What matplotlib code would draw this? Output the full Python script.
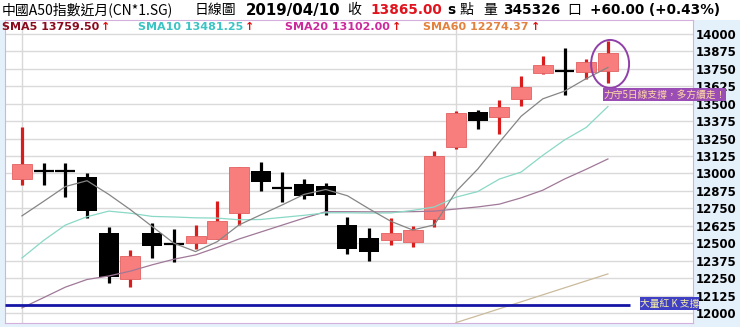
import matplotlib
matplotlib.use("Agg")
import matplotlib.pyplot as plt
from matplotlib.patches import Rectangle, Ellipse
import numpy as np

plt.rcParams["font.family"] = ["DejaVu Sans", "Noto Sans CJK TC"]
CJK = ["Noto Sans CJK TC", "DejaVu Sans"]

# daily candles, oldest first
opens = [12961, 13020, 13018, 12977, 12576, 12244, 12571, 12497, 12505, 12533,
         12715, 13018, 12899, 12925, 12908, 12631, 12540, 12521, 12507, 12674,
         13192, 13441, 13407, 13536, 13718, 13733, 13730, 13735]
highs = [13333, 13077, 13075, 13006, 12619, 12452, 12643, 12600, 12634, 12803,
         13044, 13083, 13013, 12961, 12934, 12690, 12607, 12679, 12626, 13161,
         13448, 13455, 13527, 13699, 13842, 13900, 13821, 13950]
lows = [12918, 12918, 12834, 12683, 12217, 12184, 12392, 12364, 12459, 12533,
        12634, 12877, 12794, 12819, 12703, 12421, 12373, 12488, 12473, 12619,
        13176, 13317, 13281, 13484, 13711, 13561, 13680, 13651]
closes = [13068, 13020, 13018, 12731, 12260, 12411, 12483, 12497, 12552, 12660,
          13044, 12941, 12899, 12839, 12846, 12459, 12435, 12571, 12595, 13126,
          13432, 13379, 13479, 13622, 13776, 13733, 13802, 13865]

sma5 = [12696, 12800, 12906, 12948, 12850, 12740, 12620, 12500, 12440, 12511,
        12631, 12703, 12775, 12850, 12885, 12840, 12746, 12657, 12595, 12631,
        12870, 13031, 13224, 13410, 13535, 13590, 13680, 13760]
sma10 = [12394, 12520, 12630, 12690, 12730, 12715, 12692, 12688, 12682, 12680,
         12668, 12670, 12685, 12700, 12718, 12718, 12716, 12717, 12735, 12760,
         12830, 12870, 12960, 13010, 13130, 13240, 13330, 13480]
sma20 = [12036, 12110, 12185, 12240, 12265, 12300, 12345, 12385, 12416, 12470,
         12530, 12580, 12630, 12680, 12726, 12726, 12725, 12725, 12726, 12730,
         12745, 12760, 12780, 12825, 12880, 12960, 13030, 13104]
sma60_start = 20
sma60 = [11931, 11980, 12030, 12080, 12130, 12180, 12230, 12280]

support_level = 12057
yticks = list(range(12000, 14001, 125))

W, H = 740, 327


def fx(x):
    return x / W


def fy(y):
    return 1 - y / H


def main():
    fig = plt.figure(figsize=(7.4, 3.27), dpi=100, facecolor="#e4f0fa")
    fig.add_artist(Rectangle((0, fy(20)), 1, 20 / H, transform=fig.transFigure,
                             facecolor="white", edgecolor="none", zorder=0))
    ax = fig.add_axes([fx(5), 4 / H, 688 / W, 303 / H])
    ax.set_facecolor("white")

    x = np.arange(len(closes))
    o, h, l, c = (np.array(a, dtype=float) for a in (opens, highs, lows, closes))
    up = c > o
    down = c < o
    doji = c == o

    ax.vlines(x[up], l[up], h[up], color="#d91c1c", lw=2.3, zorder=2)
    ax.bar(x[up], (c - o)[up], bottom=o[up], width=0.92, color="#f87d7d",
           edgecolor="#e36262", lw=0.6, zorder=3)
    ax.vlines(x[~up], l[~up], h[~up], color="black", lw=2.3, zorder=2)
    ax.bar(x[down], (o - c)[down], bottom=c[down], width=0.92, color="black",
           zorder=3)
    ax.hlines(c[doji], x[doji] - 0.46, x[doji] + 0.46, color="black", lw=1.6,
              zorder=3)

    ax.plot(x, sma20, color="#a07898", lw=0.9, zorder=4)
    ax.plot(x, sma10, color="#8ad8c6", lw=0.9, zorder=4)
    ax.plot(x, sma5, color="#858585", lw=0.9, zorder=4)
    ax.plot(x[sma60_start:], sma60, color="#cbbb9c", lw=0.9, zorder=4)

    xl = (-0.78, 30.92)
    ax.hlines(support_level, xl[0], 28.0, color="#1515a5", lw=2, zorder=4)

    ax.add_patch(Ellipse((27.1, 13785), 1.75, 344, facecolor="none",
                         edgecolor="#9040a8", lw=1.4, zorder=5))

    ax.set_xlim(*xl)
    ax.set_ylim(11928, 14100)
    ax.set_yticks(yticks)
    ax.set_yticklabels([str(t) for t in yticks], fontweight="bold")
    ax.yaxis.tick_right()
    ax.tick_params(axis="y", length=0, pad=2, labelsize=8.5)
    ax.set_xticks([])
    ax.grid(axis="y", color="#dadada", lw=1, zorder=0)
    ax.set_axisbelow(True)
    for xv in (0, 20):
        ax.axvline(xv, color="#d8d8d8", lw=1, zorder=1)
    for s in ax.spines.values():
        s.set_color("#d4b0dc")

    # header row
    yh = fy(10)
    fig.text(fx(2), yh, "中國A50指數近月(CN*1.SG)", family=CJK, fontsize=10,
             va="center")
    fig.text(fx(195), yh, "日線圖", family=CJK, fontsize=10, va="center")
    fig.text(fx(246), yh, "2019/04/10", fontsize=10.8, weight="bold", va="center")
    fig.text(fx(347), yh, "收", family=CJK, fontsize=10, va="center")
    fig.text(fx(370), yh, "13865.00", fontsize=9.8, weight="bold",
             color="#e0141e", va="center")
    fig.text(fx(447), yh, "s", fontsize=9.8, weight="bold", va="center")
    fig.text(fx(460), yh, "點", family=CJK, fontsize=10, va="center")
    fig.text(fx(483), yh, "量", family=CJK, fontsize=10, va="center")
    fig.text(fx(503), yh, "345326", fontsize=9.8, weight="bold", va="center")
    fig.text(fx(567), yh, "口", family=CJK, fontsize=10, va="center")
    fig.text(fx(590), yh, "+60.00 (+0.43%)", fontsize=9.8, weight="bold",
             va="center")

    # moving average legend row
    renderer = fig.canvas.get_renderer()
    ys = fy(27)
    items = [(2, "SMA5 13759.50", "#8b0a1e"), (138, "SMA10 13481.25", "#3cc4c4"),
             (285, "SMA20 13102.00", "#cc2a9c"), (423, "SMA60 12274.37", "#e3823c")]
    for xp, label, col in items:
        t = fig.text(fx(xp), ys, label, fontsize=8, weight="bold", color=col,
                     va="center")
        bb = t.get_window_extent(renderer)
        fig.text(bb.x1 / W + 2 / W, ys, "↑", fontsize=8, weight="bold",
                 color="#e01010", va="center")

    # annotation boxes
    fig.add_artist(Rectangle((fx(603), fy(101)), 123 / W, 13 / H,
                             transform=fig.transFigure, facecolor="#9a4db4",
                             edgecolor="none", zorder=6))
    fig.text(fx(664.5), fy(94.5), "力守5日線支撐，多方續走！", family=CJK,
             fontsize=7, color="#ffd9a6", ha="center", va="center", zorder=7)
    fig.add_artist(Rectangle((fx(640), fy(310)), 59 / W, 13 / H,
                             transform=fig.transFigure, facecolor="#4040c6",
                             edgecolor="none", zorder=6))
    fig.text(fx(669.5), fy(303.5), "大量紅 K 支撐", family=CJK, fontsize=7,
             color="#f4eea8", ha="center", va="center", zorder=7)

    fig.savefig("out.png", dpi=100, facecolor=fig.get_facecolor())
    plt.close(fig)


if __name__ == "__main__":
    main()
